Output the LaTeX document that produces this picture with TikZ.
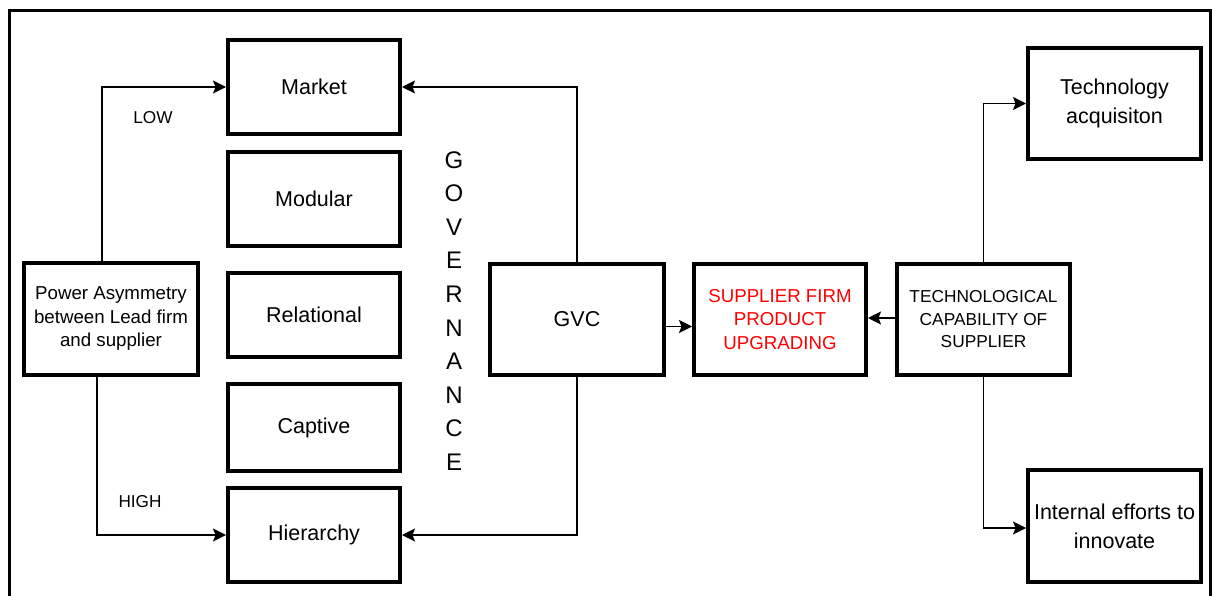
\documentclass[tikz,border=0pt]{standalone}
\usepackage{fontspec}
\setmainfont{Liberation Sans}
\usetikzlibrary{arrows.meta}
\begin{document}
\begin{tikzpicture}[x=1pt,y=-1pt,
  >={Stealth[length=13pt,width=13pt,inset=2.5pt]},
  box/.style={draw=black,line width=4pt,rectangle,inner sep=0pt,align=center,anchor=center},
  big/.style={font=\fontsize{21.5}{29}\selectfont},
  small/.style={font=\fontsize{18.7}{23.5}\selectfont},
  conn/.style={draw=black,line width=1.6pt,->},
  lbl/.style={font=\fontsize{17.2}{20}\selectfont,inner sep=0pt}]
\useasboundingbox (0,0) rectangle (1212,596);
\draw[line width=3.5pt] (9.5,620) -- (9.5,10.5) -- (1211,10.5) -- (1211,620);
% governance boxes
\node[box,big,minimum width=172pt,minimum height=94pt] (market) at (314,87) {Market};
\node[box,big,minimum width=172pt,minimum height=94pt] (modular) at (314,199) {Modular};
\node[box,big,minimum width=172pt,minimum height=84pt] (relational) at (314,315) {Relational};
\node[box,big,minimum width=172pt,minimum height=87pt] (captive) at (314,427.5) {Captive};
\node[box,big,minimum width=172pt,minimum height=94pt] (hierarchy) at (314,535) {Hierarchy};
% other boxes
\node[box,small,minimum width=174pt,minimum height=112pt] (power) at (111,319) {Power Asymmetry\\between Lead firm\\and supplier};
\node[box,big,minimum width=174pt,minimum height=111pt] (gvc) at (577,319.5) {GVC};
\node[box,small,text=red,minimum width=172pt,minimum height=111pt] (supplier) at (780,319.5) {SUPPLIER FIRM\\PRODUCT\\UPGRADING};
\node[box,font=\fontsize{17.3}{22.5}\selectfont,minimum width=173pt,minimum height=111pt] (tech) at (983.5,319.5) {TECHNOLOGICAL\\CAPABILITY OF\\SUPPLIER};
\node[box,big,minimum width=173pt,minimum height=111pt] (acq) at (1114.5,103.5) {Technology\\acquisiton};
\node[box,big,minimum width=173pt,minimum height=112pt] (internal) at (1114.5,526) {Internal efforts to\\innovate};
% labels
\node[font=\fontsize{24}{33.6}\selectfont,align=center,inner sep=0pt] (gov) at (454,311) {G\\O\\V\\E\\R\\N\\A\\N\\C\\E};
\node[lbl] (low) at (153,118) {LOW};
\node[lbl] (high) at (140,502) {HIGH};
% connectors
\draw[conn] ([xshift=-9pt]power.north) |- (market.west);
\draw[conn] ([xshift=-14pt]power.south) |- (hierarchy.west);
\draw[conn] (gvc.north) |- (market.east);
\draw[conn] (gvc.south) |- (hierarchy.east);
\draw[conn] ([yshift=-7pt]gvc.east) -- ([yshift=-7pt]supplier.west);
\draw[conn] ([yshift=1.5pt]tech.west) -- ([yshift=1.5pt]supplier.east);
\draw[conn] (tech.north) |- (acq.west);
\draw[conn] (tech.south) |- ([yshift=-2pt]internal.west);
\end{tikzpicture}
\end{document}
